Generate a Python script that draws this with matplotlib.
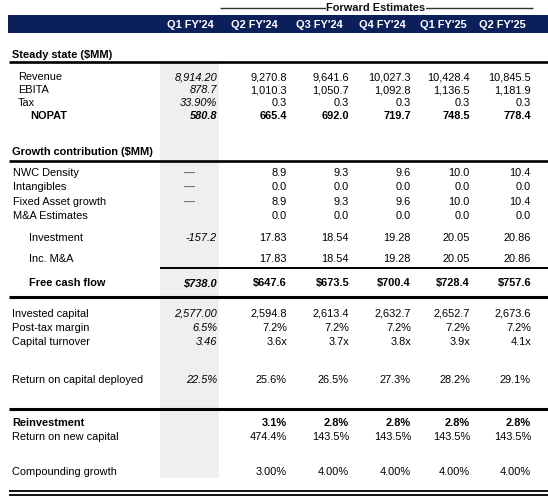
import matplotlib
matplotlib.use("Agg")
import matplotlib.pyplot as plt
import numpy as np

plt.rcParams['font.family'] = ['Liberation Sans', 'DejaVu Sans']

# ---------------- data ----------------
periods = ["Q1 FY'24", "Q2 FY'24", "Q3 FY'24", "Q4 FY'24", "Q1 FY'25", "Q2 FY'25"]
group_title = "Forward Estimates"

revenue = [8914.20, 9270.8, 9641.6, 10027.3, 10428.4, 10845.5]
ebita = [878.7, 1010.3, 1050.7, 1092.8, 1136.5, 1181.9]
tax = [33.90, 0.3, 0.3, 0.3, 0.3, 0.3]
nopat = [580.8, 665.4, 692.0, 719.7, 748.5, 778.4]

nwc_density = [None, 8.9, 9.3, 9.6, 10.0, 10.4]
intangibles = [None, 0.0, 0.0, 0.0, 0.0, 0.0]
fixed_asset_growth = [None, 8.9, 9.3, 9.6, 10.0, 10.4]
ma_estimates = [None, 0.0, 0.0, 0.0, 0.0, 0.0]
investment = [-157.2, 17.83, 18.54, 19.28, 20.05, 20.86]
inc_ma = [None, 17.83, 18.54, 19.28, 20.05, 20.86]
free_cash_flow = [738.0, 647.6, 673.5, 700.4, 728.4, 757.6]

invested_capital = [2577.00, 2594.8, 2613.4, 2632.7, 2652.7, 2673.6]
post_tax_margin = [6.5, 7.2, 7.2, 7.2, 7.2, 7.2]
capital_turnover = [3.46, 3.6, 3.7, 3.8, 3.9, 4.1]
return_on_capital = [22.5, 25.6, 26.5, 27.3, 28.2, 29.1]

reinvestment = [None, 3.1, 2.8, 2.8, 2.8, 2.8]
return_on_new_capital = [None, 474.4, 143.5, 143.5, 143.5, 143.5]
compounding_growth = [None, 3.00, 4.00, 4.00, 4.00, 4.00]

# ---------------- layout ----------------
W, H = 548, 503
fig = plt.figure(figsize=(W / 100, H / 100), dpi=100)
ax = fig.add_axes([0, 0, 1, 1])
ax.set_xlim(0, W)
ax.set_ylim(H, 0)
ax.axis('off')

FS = 7.9
NAVY = '#0b1f5b'
GRAY_BG = '#efefef'

val_right = [217, 287, 349, 411, 470, 531]
hdr_right = [214, 278, 343, 406, 467, 526]

# gray shaded first column
ax.add_patch(plt.Rectangle((160, 62), 59, 416, facecolor=GRAY_BG, edgecolor='none', zorder=0))

# Forward estimates bracket line
ax.plot([220, 533], [8, 8], color='#333333', lw=1.0, zorder=1, solid_capstyle='butt')
ax.text(376, 8, group_title, ha='center', va='center', fontsize=FS, fontweight='bold',
        color='#111111', zorder=2, bbox=dict(facecolor='white', edgecolor='none', pad=0.3))

# header band
ax.add_patch(plt.Rectangle((8, 15), W - 8, 18, facecolor=NAVY, edgecolor='none', zorder=1))
for p, xr in zip(periods, hdr_right):
    ax.text(xr, 24.5, p, ha='right', va='center', fontsize=FS, fontweight='bold', color='white', zorder=2)


def hline(y, x0, x1, lw):
    ax.plot([x0, x1], [y, y], color='black', lw=lw, solid_capstyle='butt', zorder=3)


# section headings
ax.text(12, 55, "Steady state ($MM)", ha='left', va='center', fontsize=FS, fontweight='bold')
hline(61.5, 9, W, 1.9)
ax.text(12, 152, "Growth contribution ($MM)", ha='left', va='center', fontsize=FS, fontweight='bold')
hline(160.5, 9, W, 1.9)
hline(267.5, 160, W, 1.4)
hline(297, 9, W, 2.2)
hline(409, 9, W, 2.2)
hline(491, 9, W, 1.3)
hline(495, 9, W, 1.3)

# rows: label, label_x, y, values, (q1 format, rest format), bold, dash in q1
rows = [
    ("Revenue", 18, 77, revenue, ("{:,.2f}", "{:,.1f}"), False, False),
    ("EBITA", 18, 90, ebita, ("{:,.1f}", "{:,.1f}"), False, False),
    ("Tax", 18, 103, tax, ("{:.2f}%", "{:.1f}"), False, False),
    ("NOPAT", 30, 116, nopat, ("{:,.1f}", "{:,.1f}"), True, False),
    ("NWC Density", 13, 173, nwc_density, (None, "{:.1f}"), False, True),
    ("Intangibles", 13, 187, intangibles, (None, "{:.1f}"), False, True),
    ("Fixed Asset growth", 13, 202, fixed_asset_growth, (None, "{:.1f}"), False, True),
    ("M&A Estimates", 13, 216, ma_estimates, (None, "{:.1f}"), False, False),
    ("Investment", 29, 238, investment, ("{:.1f}", "{:.2f}"), False, False),
    ("Inc. M&A", 29, 259, inc_ma, (None, "{:.2f}"), False, False),
    ("Free cash flow", 29, 283, free_cash_flow, ("${:,.1f}", "${:,.1f}"), True, False),
    ("Invested capital", 12, 314, invested_capital, ("{:,.2f}", "{:,.1f}"), False, False),
    ("Post-tax margin", 12, 328, post_tax_margin, ("{:.1f}%", "{:.1f}%"), False, False),
    ("Capital turnover", 12, 342, capital_turnover, ("{:.2f}", "{:.1f}x"), False, False),
    ("Return on capital deployed", 12, 380, return_on_capital, ("{:.1f}%", "{:.1f}%"), False, False),
    ("Reinvestment", 12, 423, reinvestment, (None, "{:.1f}%"), True, False),
    ("Return on new capital", 12, 437, return_on_new_capital, (None, "{:.1f}%"), False, False),
    ("Compounding growth", 12, 472, compounding_growth, (None, "{:.2f}%"), False, False),
]

for label, lx, y, vals, fmts, bold, dash in rows:
    ax.text(lx, y, label, ha='left', va='center', fontsize=FS,
            fontweight='bold' if bold else 'normal', zorder=4)
    for i, v in enumerate(vals):
        if i == 0 and dash:
            ax.text(190, y + 1, "\u2014", ha='center', va='center', fontsize=FS,
                    fontweight='bold', color='#707070', zorder=4)
            continue
        if v is None:
            continue
        fmt = fmts[0] if i == 0 else fmts[1]
        ax.text(val_right[i], y, fmt.format(v), ha='right', va='center', fontsize=FS,
                fontweight='bold' if bold else 'normal',
                fontstyle='italic' if i == 0 else 'normal', zorder=4)

fig.savefig("out.png", dpi=100)
